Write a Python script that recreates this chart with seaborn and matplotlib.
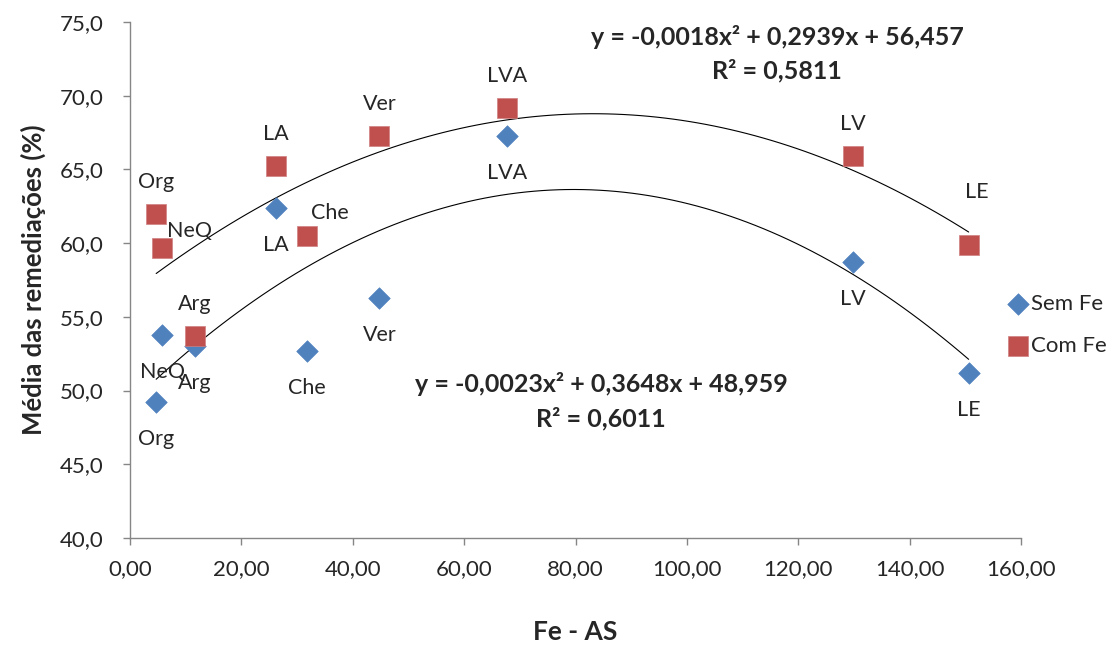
#!/usr/bin/env python3

import pandas as pd
import seaborn as sns
import matplotlib.pyplot as plt
from matplotlib.ticker import FuncFormatter

# Solos e valores
solos = ["Org", "NeQ", "Arg", "LA", "Che", "Ver", "LVA", "LV", "LE"]
fe_as = [4.7, 5.8, 11.7, 26.2, 31.7, 44.8, 67.7, 129.8, 150.6]
sem_fe = [49.2, 53.8, 53.0, 62.4, 52.7, 56.3, 67.3, 58.7, 51.2]
com_fe = [62.0, 59.7, 53.7, 65.2, 60.5, 67.3, 69.2, 65.9, 59.9]

eq_com = ["y = -0,0018x\u00b2 + 0,2939x + 56,457", "R\u00b2 = 0,5811"]
eq_sem = ["y = -0,0023x\u00b2 + 0,3648x + 48,959", "R\u00b2 = 0,6011"]

BLUE = "#4F81BD"
RED = "#C0504D"
GRAY = "#868686"

sns.set_style("ticks")
plt.rcParams["font.family"] = ["Lato", "DejaVu Sans"]

df = pd.DataFrame({"solo": solos, "fe": fe_as, "sem": sem_fe, "com": com_fe})

fig = plt.figure(figsize=(11.08, 6.5), dpi=100)
ax = fig.add_axes([130 / 1108, 112 / 650, 891 / 1108, 516 / 650])

# trend lines (polynomial order 2)
sns.regplot(data=df, x="fe", y="sem", order=2, ci=None, scatter=False,
            color="black", line_kws={"linewidth": 0.8}, ax=ax)
sns.regplot(data=df, x="fe", y="com", order=2, ci=None, scatter=False,
            color="black", line_kws={"linewidth": 0.8}, ax=ax)

sns.scatterplot(data=df, x="fe", y="sem", marker="D", s=120, color=BLUE,
                edgecolor=BLUE, linewidth=0.5, label="Sem Fe", ax=ax, zorder=3)
sns.scatterplot(data=df, x="fe", y="com", marker="s", s=200, color=RED,
                edgecolor="#D08080", linewidth=0.5, label="Com Fe", ax=ax,
                zorder=3)

# data labels (offsets in pixels)
red_off = {"NeQ": (27, 17), "Che": (23, 23), "LE": (8, 53)}
for _, r in df.iterrows():
    ax.annotate(r["solo"], (r["fe"], r["sem"]), xytext=(0, -37 * 0.72),
                textcoords="offset points", ha="center", va="center",
                fontsize=15.5, color="#262626")
    dx, dy = red_off.get(r["solo"], (0, 32))
    ax.annotate(r["solo"], (r["fe"], r["com"]), xytext=(dx * 0.72, dy * 0.72),
                textcoords="offset points", ha="center", va="center",
                fontsize=15.5, color="#262626")

ax.set_xlim(0, 160)
ax.set_ylim(40, 75)
ax.set_xticks(range(0, 161, 20))
ax.set_yticks(range(40, 76, 5))
ax.xaxis.set_major_formatter(FuncFormatter(lambda v, p: f"{v:.2f}".replace(".", ",")))
ax.yaxis.set_major_formatter(FuncFormatter(lambda v, p: f"{v:.1f}".replace(".", ",")))
ax.tick_params(axis="both", colors=GRAY, labelcolor="#262626", labelsize=16,
               length=5, width=1)
ax.tick_params(axis="x", pad=10)
ax.tick_params(axis="y", pad=14)
for s in ["left", "bottom"]:
    ax.spines[s].set_color(GRAY)
    ax.spines[s].set_linewidth(1)
sns.despine(ax=ax)

ax.set_xlabel("Fe - AS", fontsize=19, fontweight="bold", labelpad=30)
ax.set_ylabel("Média das remediações (%)", fontsize=18.5, fontweight="bold",
              labelpad=10)

# equations
for i, t in enumerate(eq_com):
    fig.text(777 / 1108, 1 - (37 + 34 * i) / 650, t, ha="center", va="center",
             fontsize=18, fontweight="bold")
for i, t in enumerate(eq_sem):
    fig.text(601 / 1108, 1 - (384 + 35 * i) / 650, t, ha="center", va="center",
             fontsize=18, fontweight="bold")

ax.get_legend().remove()
h, l = ax.get_legend_handles_labels()
fig.legend(h, l, loc="center left", bbox_to_anchor=(998 / 1108, 1 - 325 / 650),
           frameon=False, fontsize=16, handletextpad=0.1, labelspacing=1.0,
           handlelength=1.0, borderaxespad=0)

fig.savefig("out.png", dpi=100)
